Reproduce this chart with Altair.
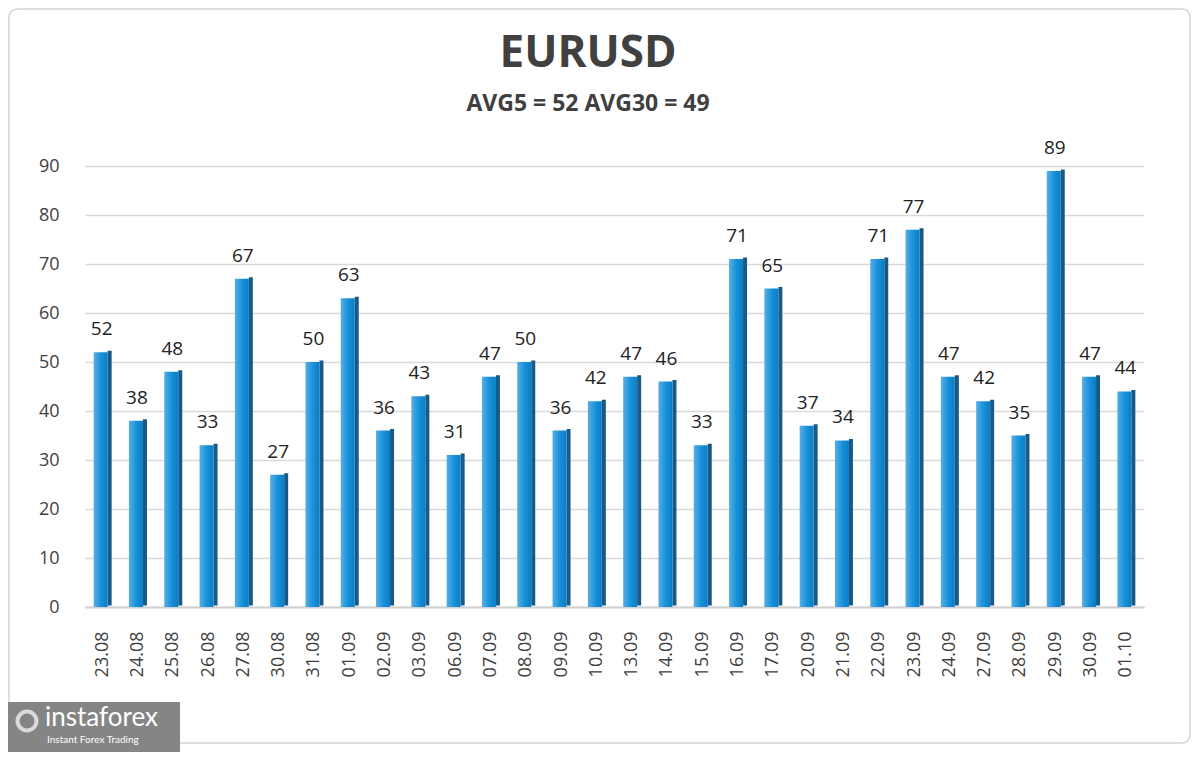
import altair as alt
import pandas as pd

dates = ["23.08", "24.08", "25.08", "26.08", "27.08", "30.08", "31.08", "01.09", "02.09", "03.09",
         "06.09", "07.09", "08.09", "09.09", "10.09", "13.09", "14.09", "15.09", "16.09", "17.09",
         "20.09", "21.09", "22.09", "23.09", "24.09", "27.09", "28.09", "29.09", "30.09", "01.10"]
values = [52, 38, 48, 33, 67, 27, 50, 63, 36, 43,
          31, 47, 50, 36, 42, 47, 46, 33, 71, 65,
          37, 34, 71, 77, 47, 42, 35, 89, 47, 44]
y_ticks = [0, 10, 20, 30, 40, 50, 60, 70, 80, 90]
title_text = "EURUSD"
subtitle_text = "AVG5 = 52 AVG30 = 49"

df = pd.DataFrame({"date": dates, "value": values})
FONT = "Open Sans"

x_enc = alt.X("date:N", sort=dates, title=None,
              scale=alt.Scale(paddingInner=0, paddingOuter=0),
              axis=alt.Axis(labelAngle=-90, labelFontSize=18, labelColor="#404040",
                            labelFont=FONT, ticks=False, labelPadding=24, grid=False,
                            domainColor="#d0d0d0", domainWidth=2))
y_enc = alt.Y("value:Q", title=None,
              scale=alt.Scale(domain=[0, 90], nice=False),
              axis=alt.Axis(values=y_ticks, labelFontSize=18, labelColor="#404040",
                            labelFont=FONT, ticks=False, domain=False, labelPadding=26,
                            gridColor="#d9d9d9", gridWidth=1.5))

base = alt.Chart(df)

side = base.mark_bar(width=4, xOffset=7, yOffset=-1.5, color="#185985").encode(x=x_enc, y=y_enc)
front = base.mark_bar(
    width=14, xOffset=-2,
    color=alt.Gradient(gradient="linear", x1=0, y1=0, x2=1, y2=0,
                       stops=[alt.GradientStop(color="#55afe6", offset=0),
                              alt.GradientStop(color="#1690d8", offset=0.55),
                              alt.GradientStop(color="#0b7cc4", offset=1)])
).encode(x=x_enc, y=y_enc)
labels = base.mark_text(fontSize=19, font=FONT, color="#222222", dy=-17, dx=-1,
                        baseline="alphabetic").encode(
    x=alt.X("date:N", sort=dates), y="value:Q", text="value:Q")

deco = pd.DataFrame({"k": [0]})
frame = alt.Chart(deco).mark_rect(fill=None, stroke="#d4d4d4", strokeWidth=1.5, cornerRadius=8).encode(
    x=alt.value(-76), x2=alt.value(1105), y=alt.value(-157), y2=alt.value(577))
title = alt.Chart(deco).mark_text(text=title_text, fontSize=44, fontWeight="bold", font=FONT,
                                  color="#404040", baseline="alphabetic", align="center").encode(
    x=alt.value(503), y=alt.value(-99))
subtitle = alt.Chart(deco).mark_text(text=subtitle_text, fontSize=23, fontWeight="bold", font=FONT,
                                     color="#404040", baseline="alphabetic", align="center").encode(
    x=alt.value(503), y=alt.value(-55))
logo_box = alt.Chart(deco).mark_rect(color="#858585").encode(
    x=alt.value(-77), x2=alt.value(95), y=alt.value(536), y2=alt.value(600))
logo_icon = alt.Chart(deco).mark_point(shape="circle", size=360, filled=False, stroke="white",
                                       strokeWidth=4).encode(x=alt.value(-58), y=alt.value(555))
logo_text = alt.Chart(deco).mark_text(text="instaforex", fontSize=26, font="Lato",
                                      color="white", align="left", baseline="alphabetic").encode(
    x=alt.value(-40), y=alt.value(560))
logo_sub = alt.Chart(deco).mark_text(text="Instant Forex Trading", fontSize=10, font="Lato",
                                     color="white", align="left", baseline="alphabetic").encode(
    x=alt.value(-38), y=alt.value(577))

chart = alt.layer(frame, side, front, labels, title, subtitle,
                  logo_box, logo_icon, logo_text, logo_sub).properties(
    width=1059, height=441,
    background="white",
    autosize=alt.AutoSizeParams(type="none"),
    padding={"left": 77, "top": 158, "right": 48, "bottom": 145},
).configure_view(strokeWidth=0, stroke=None)

chart.save("out.html", embed_options={"renderer": "svg", "actions": False})
